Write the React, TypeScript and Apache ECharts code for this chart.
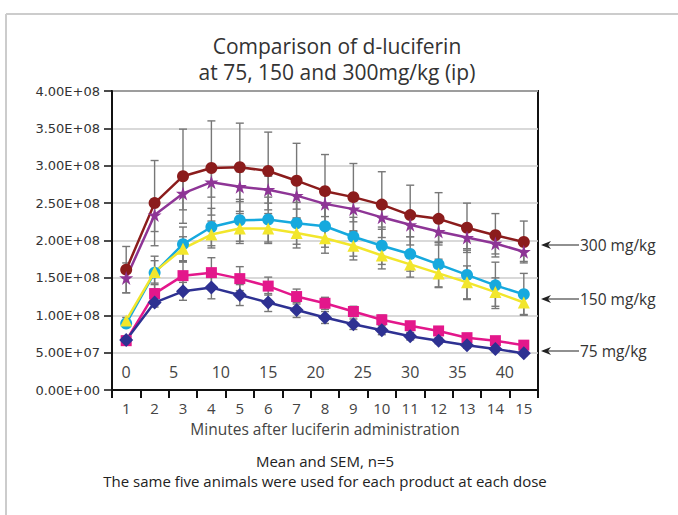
import React, { useEffect, useRef } from 'react';
import * as echarts from 'echarts';

// Categories (reading number) and minute ticks
const categories = ['1', '2', '3', '4', '5', '6', '7', '8', '9', '10', '11', '12', '13', '14', '15'];
const minuteTicks = [0, 5, 10, 15, 20, 25, 30, 35, 40];

// Means (x 1e8 photons)
const red300 = [1.61, 2.50, 2.86, 2.97, 2.98, 2.93, 2.80, 2.66, 2.58, 2.48, 2.34, 2.29, 2.17, 2.07, 1.98];
const purple300 = [1.50, 2.34, 2.63, 2.78, 2.72, 2.68, 2.60, 2.49, 2.42, 2.31, 2.21, 2.12, 2.04, 1.96, 1.85];
const cyan150 = [0.89, 1.57, 1.95, 2.18, 2.27, 2.28, 2.23, 2.19, 2.05, 1.93, 1.82, 1.68, 1.54, 1.40, 1.28];
const yellow150 = [0.93, 1.58, 1.89, 2.08, 2.16, 2.16, 2.10, 2.03, 1.93, 1.80, 1.68, 1.56, 1.44, 1.31, 1.17];
const magenta75 = [0.66, 1.29, 1.53, 1.57, 1.49, 1.39, 1.25, 1.16, 1.05, 0.94, 0.86, 0.79, 0.70, 0.66, 0.60];
const navy75 = [0.67, 1.17, 1.32, 1.37, 1.27, 1.17, 1.07, 0.97, 0.88, 0.80, 0.72, 0.66, 0.60, 0.55, 0.49];

// SEM (x 1e8)
const redErr = [0.31, 0.57, 0.63, 0.63, 0.59, 0.52, 0.50, 0.49, 0.45, 0.44, 0.40, 0.35, 0.33, 0.29, 0.28];
const purpleErr = [0.2, 0.22, 0.22, 0.2, 0.2, 0.18, 0.18, 0.17, 0.17, 0.16, 0.16, 0.15, 0.15, 0.14, 0.13];
const cyanErr = [0.05, 0.22, 0.23, 0.25, 0.28, 0.3, 0.28, 0.28, 0.26, 0.25, 0.23, 0.3, 0.33, 0.31, 0.28];
const yellowErr = [0.04, 0.15, 0.16, 0.18, 0.2, 0.2, 0.2, 0.2, 0.19, 0.18, 0.17, 0.19, 0.22, 0.19, 0.16];
const magentaErr = [0.05, 0.12, 0.18, 0.2, 0.16, 0.12, 0.1, 0.08, 0.07, 0.06, 0.05, 0.05, 0.05, 0.04, 0.04];
const navyErr = [0.05, 0.06, 0.12, 0.15, 0.14, 0.12, 0.1, 0.08, 0.07, 0.06, 0.05, 0.04, 0.04, 0.04, 0.03];

const doseLabels = ['300 mg/kg', '150 mg/kg', '75 mg/kg'];

const SCALE = 1e8;
const STAR = 'path://M50,0 L61,35 L98,35 L68,57 L79,91 L50,70 L21,91 L32,57 L2,35 L39,35 Z';

const fmtSci = (v: number) => {
  const [m, e] = v.toExponential(2).split('e');
  const sign = e[0] === '-' ? '-' : '+';
  const d = e.replace(/^[+-]/, '').padStart(2, '0');
  return `${m}E${sign}${d}`;
};

const FONT = '"Open Sans", "Noto Sans", sans-serif';

export default function App() {
  const ref = useRef<HTMLDivElement>(null);
  useEffect(() => {
    if (!ref.current) return;
    const chart = echarts.init(ref.current, undefined, { renderer: 'svg' });
    const defs = [
      { name: '300 A', mean: red300, err: redErr, color: '#8B1C1C', symbol: 'circle', size: 12 },
      { name: '300 B', mean: purple300, err: purpleErr, color: '#8E3596', symbol: STAR, size: 14 },
      { name: '150 A', mean: cyan150, err: cyanErr, color: '#16A9DE', symbol: 'circle', size: 12 },
      { name: '150 B', mean: yellow150, err: yellowErr, color: '#F2E62C', symbol: 'triangle', size: 12 },
      { name: '75 A', mean: magenta75, err: magentaErr, color: '#E3178B', symbol: 'rect', size: 11 },
      { name: '75 B', mean: navy75, err: navyErr, color: '#2E3192', symbol: 'diamond', size: 14 },
    ];
    const errSeries = defs.map((d) => ({
      type: 'custom',
      name: d.name + ' err',
      xAxisIndex: 0,
      yAxisIndex: 0,
      z: 1,
      silent: true,
      encode: { x: 0, y: 1 },
      data: d.mean.map((m, i) => [i, m * SCALE, d.err[i] * SCALE]),
      renderItem: (params: any, api: any) => {
        const i = api.value(0);
        const m = api.value(1);
        const e = api.value(2);
        const hi = api.coord([i, m + e]);
        const lo = api.coord([i, m - e]);
        const w = 4;
        const style = { stroke: '#777777', lineWidth: 1.4 };
        return {
          type: 'group',
          children: [
            { type: 'line', shape: { x1: hi[0], y1: hi[1], x2: lo[0], y2: lo[1] }, style },
            { type: 'line', shape: { x1: hi[0] - w, y1: hi[1], x2: hi[0] + w, y2: hi[1] }, style },
            { type: 'line', shape: { x1: lo[0] - w, y1: lo[1], x2: lo[0] + w, y2: lo[1] }, style },
          ],
        };
      },
    }));
    const lineSeries = defs.map((d) => ({
      type: 'line',
      name: d.name,
      xAxisIndex: 0,
      yAxisIndex: 0,
      z: 3,
      data: d.mean.map((m) => m * SCALE),
      symbol: d.symbol,
      symbolSize: d.size,
      showAllSymbol: true,
      lineStyle: { color: d.color, width: 2.5 },
      itemStyle: { color: d.color },
    }));

    const annY = [245, 299, 351];
    const graphics: any[] = [
      { type: 'line', shape: { x1: 6, y1: 14, x2: 678, y2: 14 }, style: { stroke: '#cccccc', lineWidth: 2 } },
      { type: 'line', shape: { x1: 6, y1: 14, x2: 6, y2: 515 }, style: { stroke: '#cccccc', lineWidth: 2 } },
      {
        type: 'text', x: 325, y: 461,
        style: { text: 'Mean and SEM, n=5', font: `15px ${FONT}`, fill: '#222', textAlign: 'center', textVerticalAlign: 'middle' },
      },
      {
        type: 'text', x: 325, y: 481,
        style: { text: 'The same five animals were used for each product at each dose', font: `15px ${FONT}`, fill: '#222', textAlign: 'center', textVerticalAlign: 'middle' },
      },
    ];
    doseLabels.forEach((lab, k) => {
      const y = annY[k];
      graphics.push(
        { type: 'line', shape: { x1: 543, y1: y, x2: 579, y2: y }, style: { stroke: '#222', lineWidth: 1.2 } },
        { type: 'polygon', shape: { points: [[541, y], [551, y - 4], [548, y], [551, y + 4]] }, style: { fill: '#222' } },
        { type: 'text', x: 580, y, style: { text: lab, font: `15.5px ${FONT}`, fill: '#333', textAlign: 'left', textVerticalAlign: 'middle' } },
      );
    });

    chart.setOption({
      animation: false,
      backgroundColor: '#ffffff',
      title: {
        text: 'Comparison of d-luciferin\nat 75, 150 and 300mg/kg (ip)',
        left: 332,
        top: 28,
        textAlign: 'center',
        textStyle: { fontFamily: FONT, fontSize: 21, fontWeight: 'normal', color: '#333', lineHeight: 26 },
      },
      grid: { left: 112, right: 140, top: 91, bottom: 125, show: true, borderColor: '#111', borderWidth: 2 },
      xAxis: [
        {
          type: 'category',
          data: categories,
          boundaryGap: true,
          position: 'bottom',
          axisLine: { show: true, lineStyle: { color: '#111', width: 2 } },
          axisTick: { show: true, length: 8, lineStyle: { color: '#111', width: 2 } },
          axisLabel: { color: '#444', fontSize: 15, margin: 10, fontFamily: FONT },
          splitLine: { show: false },
          name: 'Minutes after luciferin administration',
          nameLocation: 'middle',
          nameGap: 31,
          nameTextStyle: { color: '#444', fontSize: 15.5, fontFamily: FONT },
        },
        {
          type: 'value',
          min: -1.5,
          max: 43.5,
          position: 'bottom',
          axisLine: { show: false },
          axisTick: { show: false },
          splitLine: { show: false },
          axisLabel: { inside: true, customValues: minuteTicks, margin: 10, fontSize: 16, color: '#444', fontFamily: FONT },
        },
      ],
      yAxis: {
        type: 'value',
        min: 0,
        max: 4e8,
        interval: 5e7,
        axisLine: { show: true, onZero: false, lineStyle: { color: '#111', width: 2 } },
        axisTick: { show: true, length: 8, lineStyle: { color: '#111', width: 1.5 } },
        axisLabel: { formatter: fmtSci, fontFamily: '"DejaVu Sans", sans-serif', fontSize: 13, color: '#333', margin: 12 },
        splitLine: { show: true, lineStyle: { color: '#cdcdcd', width: 1.5 } },
      },
      graphic: graphics,
      series: [...errSeries, ...lineSeries],
    });
    return () => chart.dispose();
  }, []);
  return (
    <div
      ref={ref}
      style={{ position: 'fixed', left: 0, top: 0, width: 678, height: 515, background: '#fff' }}
    />
  );
}
